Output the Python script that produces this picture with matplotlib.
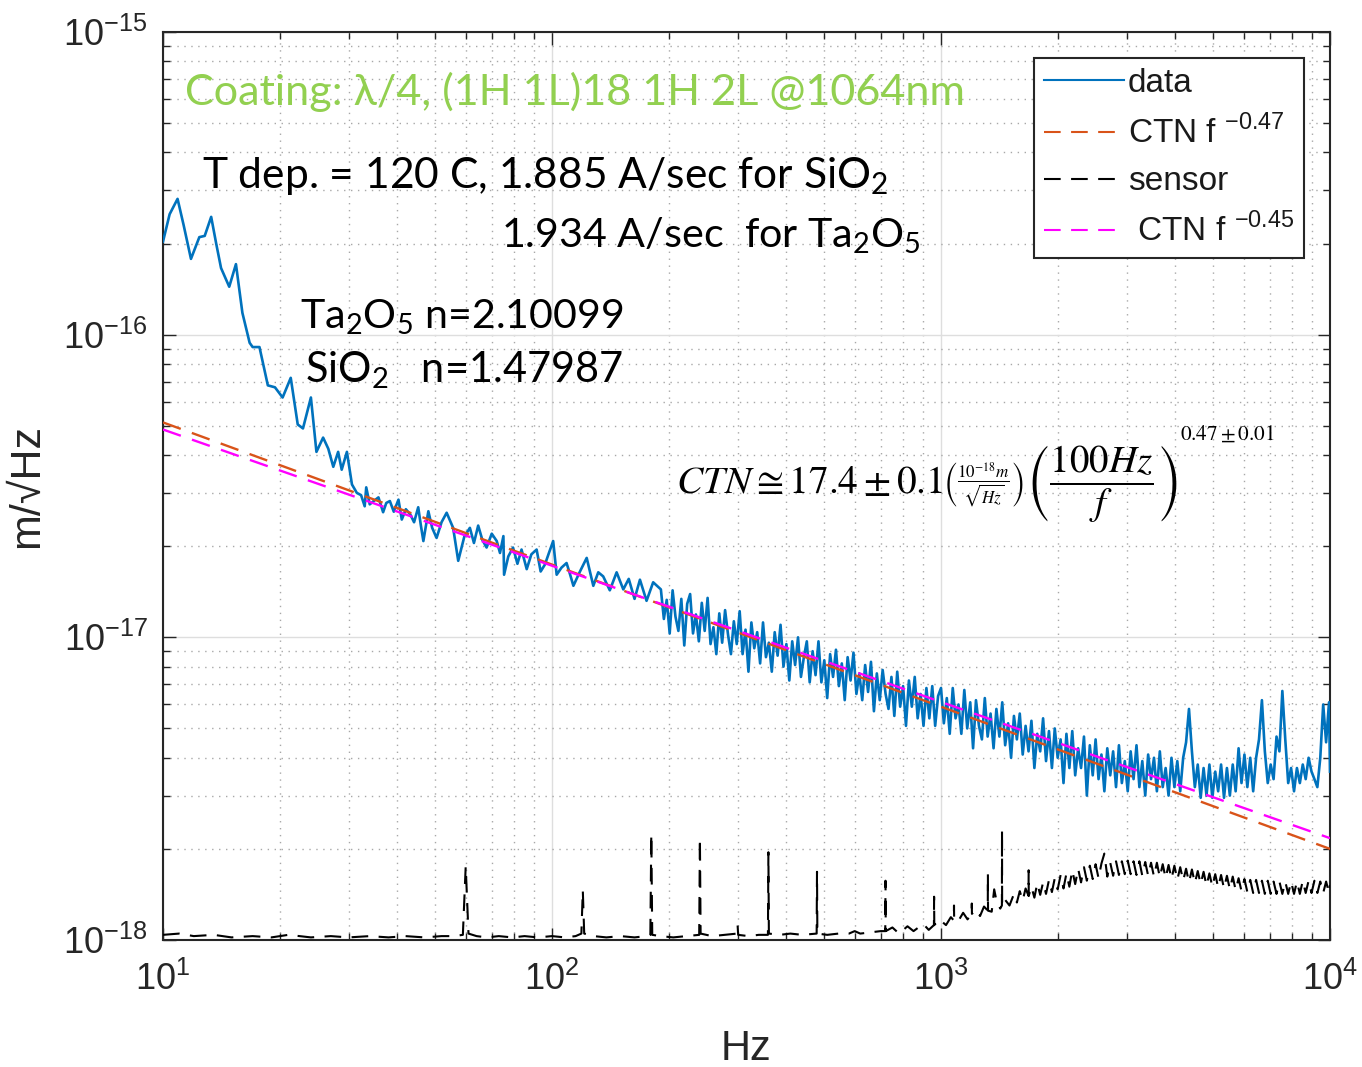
import numpy as np
import matplotlib
matplotlib.use("Agg")
import matplotlib.pyplot as plt
from matplotlib.ticker import FixedLocator, NullFormatter, LogFormatterSciNotation

# ---------------- data (amplitudes in units of 1e-18 m/sqrt(Hz)) ----------------
data_hz = [10.0, 10.4, 10.9, 11.3, 11.8, 12.4, 12.8, 13.3, 13.7, 14.1, 14.8, 15.4, 16.0, 16.7, 17.0,
           17.7, 18.6, 19.4, 20.3, 21.3, 22.2, 22.9, 24.0, 24.8, 25.8, 26.6, 27.4, 28.2, 28.8, 29.7,
           30.6, 31.5,
           32.3, 33.0, 33.3, 34.0, 34.8, 35.8, 36.8, 37.5, 38.3, 39.2, 40.3, 41.1, 42.1, 43.2, 44.2,
           45.3, 46.0, 46.7, 48.1, 49.2, 50.5, 52.0, 53.6, 55.7, 57.4, 59.5, 61.5, 63.0, 64.6, 66.2,
           67.9, 70.0, 72.1, 73.5, 75.0, 75.3, 77.2, 79.4, 81.5, 83.5, 86.1, 88.5, 91.3, 93.5, 95.9,
           98.2, 100.7, 102.8, 105.8, 109.0, 111.2, 113.5, 118.0, 122.8, 127.7, 131.5, 135.4, 140.8,
           146.6, 152.5, 157.5, 163.0, 168.3, 175.0, 182.0,
           190.5, 193.9, 197.2, 200.7, 204.2, 207.7, 211.3, 215.0, 218.8, 222.6, 226.5, 230.4, 234.4,
           238.5, 242.7, 246.9, 251.2, 255.6, 260.0, 264.5, 269.2, 273.8, 278.6, 283.5, 288.4, 293.4,
           298.5, 303.7, 309.0, 314.4, 319.9, 325.5, 331.1, 336.9, 342.8, 348.7, 354.8, 361.0, 367.3,
           373.7, 380.2, 386.8, 393.6, 400.4, 407.4, 414.5, 421.7, 429.0, 436.5, 444.1, 451.9, 459.7,
           467.7, 475.9, 484.2, 492.6, 501.2, 509.9, 518.8, 527.8, 537.0, 546.4, 555.9, 565.6, 575.4,
           585.5, 595.7, 606.1, 616.6, 627.4, 638.3, 649.4, 660.7, 672.3, 684.0, 695.9, 708.0, 720.4,
           732.9, 745.7, 758.6, 771.8, 785.3, 799.0, 812.8, 827.0, 841.4, 856.0, 871.0, 886.2, 901.6,
           917.3, 933.3, 949.6, 966.1, 983.0,
           1000, 1017, 1035, 1053, 1072, 1090, 1109, 1128, 1148, 1168, 1189, 1209, 1230, 1252, 1274,
           1296, 1318, 1341, 1365, 1388, 1413, 1437, 1462, 1488, 1514, 1540, 1567, 1594, 1622, 1650,
           1679, 1708, 1738, 1768, 1799, 1830, 1862, 1895, 1928, 1961, 1995, 2030, 2065, 2101, 2138,
           2175, 2213, 2252, 2291, 2331, 2371, 2413, 2455, 2497, 2541, 2585, 2630, 2676, 2723, 2770,
           2818, 2867, 2917, 2968, 3020, 3073, 3126, 3181, 3236, 3292, 3350, 3408, 3467, 3528, 3589,
           3652, 3715, 3780, 3846, 3913, 3981, 4050, 4121, 4193, 4266, 4340, 4416, 4493, 4571, 4651,
           4732, 4814, 4898, 4983, 5070, 5158, 5248, 5340, 5433, 5528, 5623, 5721, 5821, 5922, 6026,
           6131, 6237, 6346, 6457, 6569, 6683, 6800, 6918, 7039, 7161, 7286, 7413, 7542, 7674, 7808,
           7943, 8082, 8222, 8366, 8511, 8660, 8810, 8964, 9120, 9279, 9441, 9605, 9772, 9943, 10000]
data_val = [203, 250, 281, 230, 178, 210, 212, 245, 200, 166, 144, 171, 118, 94, 91,
            91, 68, 67, 62, 72, 50.5, 49, 62, 41, 45.7, 42, 36.6, 41, 35.8, 41,
            32, 30,
            29.5, 27.1, 31.3, 27.5, 28.2, 29.0, 25.9, 27.8, 28.2, 26.0, 28.5, 24.5, 26.5, 25.5, 24.0,
            26.9, 23.5, 20.8, 26.1, 23.0, 21.3, 24.0, 25.8, 23.0, 17.9, 21.5, 23.0, 20.5, 23.4, 21.0,
            19.8, 22.0, 20.8, 19.0, 21.6, 16.1, 18.5, 19.8, 17.5, 19.5, 16.8, 18.8, 19.5, 16.5, 17.4,
            19.0, 20.8, 16.1, 17.0, 17.6, 16.2, 14.8, 16.5, 18.3, 14.8, 16.4, 15.9, 14.3,
            16.4, 14.4, 15.6, 13.4, 15.5, 13.2, 15.2,
            14.4, 11.5, 13.3, 10.3, 14.3, 11.7, 10.5, 13.4, 9.4, 12.9, 13.9, 10.3, 11.9,
            9.7, 13.0, 10.5, 13.5, 9.5, 10.8, 8.8, 12.0, 9.6, 12.3, 10.2, 8.8, 11.3,
            9.5, 12.2, 8.8, 10.6, 7.7, 11.2, 9.2, 10.4, 8.2, 11.2, 8.6, 9.6, 7.7,
            10.4, 8.7, 11.0, 8.0, 9.5, 7.2, 9.7, 8.1, 10.0, 7.4, 8.6, 9.7, 7.1,
            9.0, 7.5, 9.7, 7.1, 8.4, 6.3, 8.8, 7.4, 9.1, 6.9, 8.2, 6.2, 8.6,
            7.2, 8.9, 6.5, 7.6, 6.2, 8.1, 6.6, 8.3, 5.7, 7.6, 6.2, 7.8, 6.5,
            5.8, 7.4, 5.5, 7.7, 5.9, 6.9, 5.1, 7.2, 5.9, 7.4, 5.4, 6.5, 5.1,
            6.8, 5.4, 6.9, 5.1, 6.4,
            6.8, 5.2, 6.3, 4.8, 6.8, 5.4, 6.0, 4.8, 6.7, 5.0, 6.1, 4.3, 6.2, 5.1, 4.6,
            6.3, 4.7, 5.6, 4.3, 5.8, 4.7, 6.1, 4.4, 5.2, 4.0, 5.5, 4.6, 5.6, 4.1, 5.1,
            4.2, 5.3, 3.7, 4.8, 4.2, 5.4, 3.9, 4.9, 3.7, 5.0, 4.0, 4.6, 3.3, 4.8, 3.7,
            4.9, 3.5, 4.3, 3.7, 4.7, 3.0, 4.4, 3.5, 4.6, 3.4, 4.1, 3.1, 4.3, 3.5, 4.2,
            3.2, 4.4, 3.3, 3.9, 3.1, 4.2, 3.4, 4.4, 3.2, 3.9, 3.0, 4.1, 3.4, 4.0, 3.1,
            4.2, 3.2, 3.7, 3.0, 4.0, 3.2, 3.9, 3.1, 4.0, 4.5, 5.8, 4.2, 3.2, 3.8, 2.95,
            3.7, 3.0, 3.8, 2.95, 3.6, 3.1, 3.8, 2.95, 3.7, 3.0, 3.8, 3.1, 4.3, 3.3, 4.1,
            3.2, 4.0, 3.1, 4.0, 4.6, 6.2, 4.2, 3.3, 3.8, 3.4, 4.7, 4.2, 6.65, 4.6, 3.3,
            3.7, 3.1, 3.7, 3.3, 3.8, 3.4, 4.0, 3.6, 3.4, 3.2, 4.0, 6.0, 4.5, 6.1, 3.6]

sensor_hz = [10, 11, 12, 13.5, 15, 17, 19, 21, 24, 27, 30, 34, 38, 42, 47, 52, 56, 59, 60, 61, 64, 68,
             73, 79, 85, 92, 100, 108, 115, 119, 120, 121, 128, 138, 150, 163, 175, 179, 180, 181, 190,
             205, 222, 239, 240, 241, 258, 278, 299, 300, 301, 320, 340, 359, 360, 361, 385, 410, 440,
             479, 480, 481, 510, 545, 580, 600, 620, 660, 700, 719, 720, 721, 750, 780, 820, 850, 900,
             930, 959, 960, 961, 990, 1030, 1060, 1079, 1080, 1081, 1110, 1140, 1170, 1199, 1200, 1201,
             1230, 1260, 1290, 1319, 1320, 1321, 1350, 1370, 1390, 1420, 1434, 1435, 1436, 1460, 1500,
             1540, 1567, 1594, 1622, 1650, 1679, 1680, 1681, 1708, 1738, 1768, 1799, 1830, 1862, 1895,
             1928, 1961, 1995, 2030, 2065, 2101, 2138, 2175, 2213, 2252, 2291, 2331, 2371, 2413, 2455,
             2497, 2541, 2585, 2630, 2676, 2723, 2770, 2818, 2867, 2917, 2968, 3020, 3073, 3126, 3181,
             3236, 3292, 3350, 3408, 3467, 3528, 3589, 3652, 3715, 3780, 3846, 3913, 3981, 4050, 4121,
             4193, 4266, 4340, 4416, 4493, 4571, 4651, 4732, 4814, 4898, 4983, 5070, 5158, 5248, 5340,
             5433, 5528, 5623, 5721, 5821, 5922, 6026, 6131, 6237, 6346, 6457, 6569, 6683, 6800, 6918,
             7039, 7161, 7286, 7413, 7542, 7674, 7808, 7943, 8082, 8222, 8366, 8511, 8660, 8810, 8964,
             9120, 9279, 9441, 9605, 9772, 9943, 10000]
sensor_val = [1.04, 1.05, 1.03, 1.04, 1.02, 1.03, 1.02, 1.04, 1.02, 1.03, 1.02, 1.03, 1.02, 1.03, 1.02,
              1.03, 1.03, 1.04, 1.75, 1.05, 1.03, 1.02, 1.03, 1.02, 1.03, 1.02, 1.03, 1.02, 1.03, 1.05,
              1.46, 1.05, 1.03, 1.02, 1.03, 1.02, 1.03, 1.04, 2.24, 1.04, 1.03, 1.02, 1.03, 1.04, 2.17,
              1.05, 1.03, 1.04, 1.05, 1.12, 1.04, 1.03, 1.04, 1.04, 1.95, 1.05, 1.04, 1.05, 1.04, 1.05,
              1.68, 1.05, 1.04, 1.05, 1.05, 1.07, 1.05, 1.06, 1.07, 1.07, 1.57, 1.07, 1.10, 1.05, 1.11,
              1.07, 1.13, 1.08, 1.12, 1.39, 1.12, 1.17, 1.12, 1.19, 1.16, 1.30, 1.16, 1.16, 1.23, 1.17,
              1.22, 1.32, 1.22, 1.26, 1.20, 1.29, 1.25, 1.65, 1.25, 1.24, 1.47, 1.34, 1.27, 1.30, 2.30,
              1.30, 1.36, 1.30,
              1.42, 1.33, 1.45, 1.35, 1.48, 1.40, 1.70, 1.40, 1.50, 1.38, 1.54, 1.41, 1.55, 1.42, 1.58,
              1.44, 1.60, 1.47, 1.64, 1.48, 1.66, 1.50, 1.70, 1.53, 1.72, 1.55, 1.74, 1.57, 1.76, 1.59,
              1.78, 1.60, 1.79, 1.93, 1.62, 1.80, 1.63, 1.82, 1.64, 1.82, 1.65, 1.83, 1.65, 1.82, 1.64,
              1.82, 1.63, 1.81, 1.63, 1.80, 1.62, 1.80, 1.61, 1.78, 1.60, 1.77, 1.59, 1.76, 1.58, 1.74,
              1.57, 1.72, 1.55, 1.71, 1.54, 1.69, 1.53, 1.68, 1.51, 1.66, 1.50, 1.65, 1.49, 1.64, 1.48,
              1.63, 1.47, 1.62, 1.46, 1.60, 1.45, 1.59, 1.44, 1.58, 1.43, 1.58, 1.43, 1.57, 1.42, 1.57,
              1.42, 1.56, 1.42, 1.56, 1.42, 1.56, 1.42, 1.56, 1.42, 1.56, 1.42, 1.57, 1.43, 1.57, 1.43,
              1.57, 1.43, 1.56, 1.43, 1.56, 1.43, 1.52]

ctn_hz = [10, 10000]
ctn047_val = [51.3, 2.0]     # CTN f^-0.47 fit line end points
ctn045_val = [48.6, 2.17]    # CTN f^-0.45 fit line end points

legend_labels = ["data", r"CTN f $^{\mathdefault{-0.47}}$", "sensor", r" CTN f $^{\mathdefault{-0.45}}$"]
x_ticks = [10, 100, 1000, 10000]
y_ticks = [1e-18, 1e-17, 1e-16, 1e-15]
unit = 1e-18

# ---------------- figure ----------------
W, H = 1362, 1067
plt.rcParams['font.family'] = ['Liberation Sans', 'DejaVu Sans']
fig = plt.figure(figsize=(W / 100, H / 100), dpi=100)
fig.patch.set_facecolor('white')
ax = fig.add_axes([163 / W, 1 - 940 / H, (1330 - 163) / W, (940 - 32) / H])
ax.set_xscale('log')
ax.set_yscale('log')

dash = (0, (8, 5))
ax.plot(data_hz, np.array(data_val) * unit, color='#0072BD', lw=1.9, label=legend_labels[0], zorder=3)
ax.plot(ctn_hz, np.array(ctn047_val) * unit, color='#D95319', lw=1.7, ls=dash, label=legend_labels[1], zorder=4)
ax.plot(sensor_hz, np.array(sensor_val) * unit, color='black', lw=1.5, ls=dash, label=legend_labels[2], zorder=3)
ax.plot(ctn_hz, np.array(ctn045_val) * unit, color='#FF00FF', lw=1.7, ls=dash, label=legend_labels[3], zorder=4)

ax.set_xlim(10, 1e4)
ax.set_ylim(1e-18, 1e-15)
ax.xaxis.set_major_locator(FixedLocator(x_ticks))
ax.yaxis.set_major_locator(FixedLocator(y_ticks))
xminor = [m * d for d in x_ticks[:-1] for m in range(2, 10)]
yminor = [m * d for d in y_ticks[:-1] for m in range(2, 10)]
ax.xaxis.set_minor_locator(FixedLocator(xminor))
ax.yaxis.set_minor_locator(FixedLocator(yminor))
ax.xaxis.set_major_formatter(LogFormatterSciNotation())
ax.yaxis.set_major_formatter(LogFormatterSciNotation())
ax.xaxis.set_minor_formatter(NullFormatter())
ax.yaxis.set_minor_formatter(NullFormatter())

ax.grid(True, which='major', color='#dedede', lw=1.0, ls='-', zorder=0)
ax.grid(True, which='minor', color='#a8a8a8', lw=1.0, ls=(0, (1, 4)), zorder=0)
ax.set_axisbelow(True)

axc = '#262626'
for sp in ax.spines.values():
    sp.set_color(axc)
    sp.set_linewidth(1.5)
ax.tick_params(which='both', direction='in', top=True, right=True, color=axc, labelcolor=axc)
ax.tick_params(which='major', length=9, width=1.0)
ax.tick_params(which='minor', length=5, width=1.0)
ax.tick_params(axis='x', which='major', labelsize=26, pad=16)
ax.tick_params(axis='y', which='major', labelsize=26, pad=11)

ax.set_xlabel('Hz', fontsize=30, color=axc, labelpad=22)
ax.set_ylabel('m/\u221aHz', fontsize=31, color=axc, labelpad=12)

leg = ax.legend(loc='upper right', bbox_to_anchor=(1304 / W, 1 - 58 / H), bbox_transform=fig.transFigure,
                fontsize=24, frameon=True, fancybox=False, edgecolor=axc, framealpha=1,
                borderpad=0.3, labelspacing=0.48, handlelength=2.4, handletextpad=0.12, borderaxespad=0)
leg.get_frame().set_linewidth(1.5)
for t in leg.get_texts():
    t.set_color('#1a1a1a')
for ln in leg.get_lines():
    ln.set_linewidth(1.5)

# ---------------- annotations ----------------
renderer = fig.canvas.get_renderer()


def place(s, x0, x1, y, color, family, va='baseline', mathff=None, size0=30):
    t = fig.text(x0 / W, 1 - y / H, s, color=color, family=family, fontsize=size0, va=va, ha='left')
    if mathff:
        t.set_math_fontfamily(mathff)
    w = t.get_window_extent(renderer).width
    t.set_fontsize(size0 * (x1 - x0) / w)
    return t


cal = ['Lato', 'DejaVu Sans']
place('Coating: \u03bb/4, (1H 1L)18 1H 2L @1064nm', 185, 966, 105, '#92D050', cal)
place(r'T dep. = 120 C, 1.885 A/sec for SiO$_{\mathdefault{2}}$', 202, 887, 188, 'black', cal)
place(r'1.934 A/sec  for Ta$_{\mathdefault{2}}$O$_{\mathdefault{5}}$', 501, 921, 247, 'black', cal)
place(r'Ta$_{\mathdefault{2}}$O$_{\mathdefault{5}}$ n=2.10099', 300, 623, 328, 'black', cal)
place(r'SiO$_{\mathdefault{2}}$   n=1.47987', 305, 623, 382, 'black', cal)

place(r'$CTN \cong 17.4 \pm 0.1$', 676, 943, 493, 'black', 'serif', mathff='stix')
place(r'$\left(\frac{10^{-18}m}{\sqrt{Hz}}\right)$', 943, 1023, 485, 'black', 'serif', va='center', mathff='stix')
t3 = fig.text(1026 / W, 1 - 484 / H, r'$\left(\dfrac{100Hz}{f}\right)$', color='black', family='serif',
              fontsize=28, va='center', ha='left')
t3.set_math_fontfamily('stix')
place(r'$0.47\pm0.01$', 1180, 1274, 434, 'black', 'serif', va='center', mathff='stix')

fig.savefig('out.png', dpi=100, facecolor='white')
